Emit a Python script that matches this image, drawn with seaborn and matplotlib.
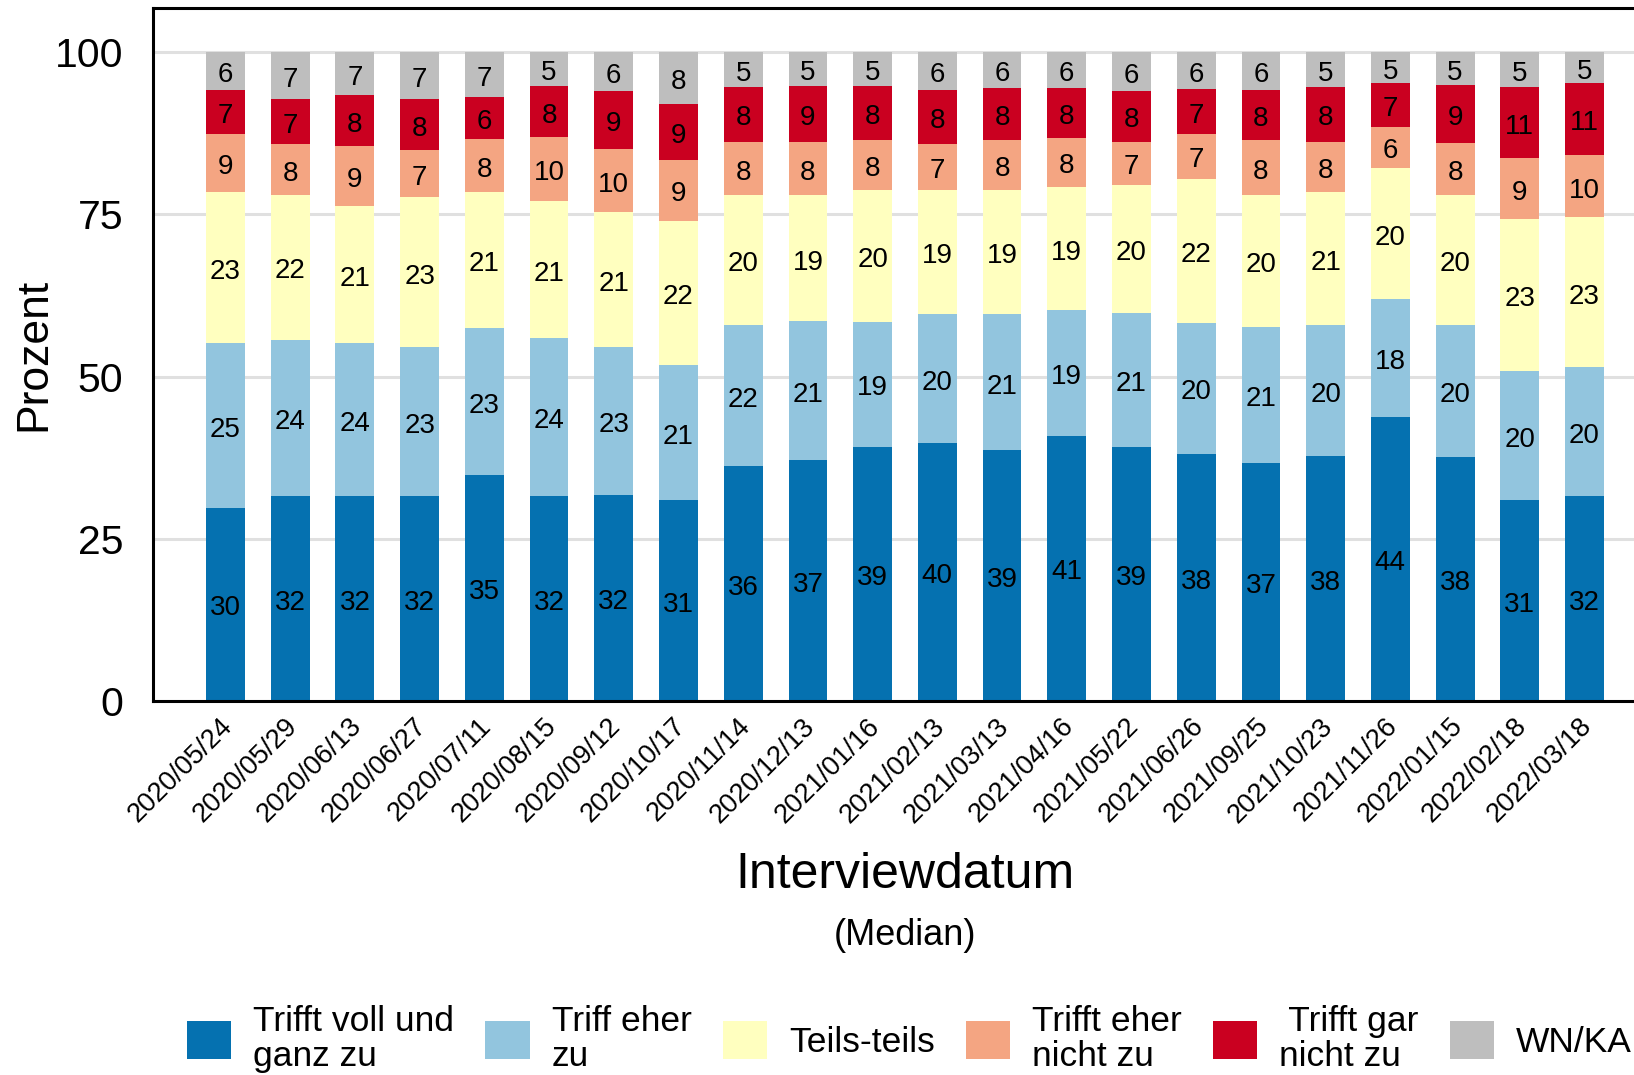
import pandas as pd
import matplotlib.pyplot as plt
import matplotlib.transforms as mtransforms
from matplotlib.patches import Patch
import seaborn as sns

# Interview dates (median)
dates = ["2020/05/24", "2020/05/29", "2020/06/13", "2020/06/27", "2020/07/11",
         "2020/08/15", "2020/09/12", "2020/10/17", "2020/11/14", "2020/12/13",
         "2021/01/16", "2021/02/13", "2021/03/13", "2021/04/16", "2021/05/22",
         "2021/06/26", "2021/09/25", "2021/10/23", "2021/11/26", "2022/01/15",
         "2022/02/18", "2022/03/18"]

# Shares in percent, bottom to top of each stack
voll = [29.8, 31.6, 31.6, 31.6, 34.8, 31.6, 31.7, 30.9, 36.2, 37.1, 39.2,
        39.7, 38.6, 40.9, 39.1, 38.1, 36.6, 37.7, 43.8, 37.6, 30.9, 31.6]
eher = [25.3, 24.1, 23.6, 22.9, 22.6, 24.4, 22.8, 20.8, 21.7, 21.4, 19.2,
        20.0, 21.0, 19.3, 20.7, 20.2, 21.0, 20.2, 18.1, 20.4, 20.0, 19.8]
teils = [23.4, 22.3, 21.0, 23.1, 21.0, 21.0, 20.8, 22.3, 20.0, 19.4, 20.4,
         19.1, 19.2, 19.0, 19.7, 22.2, 20.4, 20.6, 20.3, 20.0, 23.3, 23.1]
eher_nicht = [8.9, 7.8, 9.3, 7.3, 8.2, 9.9, 9.7, 9.4, 8.3, 8.2, 7.7,
              7.1, 7.6, 7.6, 6.7, 6.9, 8.4, 7.7, 6.3, 8.0, 9.4, 9.6]
gar_nicht = [6.7, 7.0, 7.8, 7.9, 6.4, 7.9, 9.0, 8.6, 8.4, 8.6, 8.3,
             8.3, 8.0, 7.6, 7.8, 6.9, 7.8, 8.4, 6.7, 8.9, 11.0, 11.1]
wnka = [5.9, 7.2, 6.7, 7.2, 7.0, 5.2, 6.0, 8.0, 5.4, 5.3, 5.2,
        5.8, 5.6, 5.6, 6.0, 5.7, 5.8, 5.4, 4.8, 5.1, 5.4, 4.8]

labels = ["Trifft voll und\nganz zu", "Triff eher\nzu", "Teils-teils",
          "Trifft eher\nnicht zu", " Trifft gar\nnicht zu", "WN/KA"]
colors = ["#0571b0", "#92c5de", "#ffffbf", "#f4a582", "#ca0020", "#bebebe"]

# Long-form table for seaborn
rows = []
for lab, vals in zip(labels, [voll, eher, teils, eher_nicht, gar_nicht, wnka]):
    for i, v in enumerate(vals):
        rows.append({"pos": i, "resp": lab, "value": v})
df = pd.DataFrame(rows)

sns.set_style("white")
plt.rcParams["font.family"] = ["Liberation Sans", "DejaVu Sans"]
plt.rcParams["text.color"] = "black"
plt.rcParams["axes.labelcolor"] = "black"
plt.rcParams["xtick.color"] = "black"
plt.rcParams["ytick.color"] = "black"

fig = plt.figure(figsize=(16.34, 10.75), dpi=100)
ax = fig.add_axes([153 / 1634, 374 / 1075, 1504 / 1634, 693 / 1075])

# stacked bars (seaborn stacks the last hue level at the bottom)
sns.histplot(data=df, x="pos", weights="value", hue="resp", hue_order=labels[::-1],
             multiple="stack", discrete=True, shrink=0.6,
             palette=dict(zip(labels, colors)), alpha=1, edgecolor="none",
             linewidth=0, legend=False, ax=ax)

for c in ax.containers:
    anns = ax.bar_label(c, fmt="%.0f", label_type="center", fontsize=20, color="black")
    for a in anns:
        a.xyann = (0, -3)

ax.set_xlim(-1.12, 22.12)
ax.set_ylim(0, 106.78)
ax.set_yticks([0, 25, 50, 75, 100])
ax.set_xticks(range(len(dates)))
ax.set_xticklabels(dates, rotation=45, ha="right", rotation_mode="anchor", fontsize=19.5)
ax.tick_params(axis="x", length=0, pad=11)
ax.tick_params(axis="y", length=13, width=2.2, pad=8.6, labelsize=29.5, color="black")

# nudge the date labels a little left and up
shift = mtransforms.ScaledTranslation(-6 / 100, 3 / 100, fig.dpi_scale_trans)
for lbl in ax.get_xticklabels():
    lbl.set_transform(lbl.get_transform() + shift)

ax.yaxis.grid(True, color="#e0e0e0", linewidth=2.2)
ax.xaxis.grid(False)
ax.set_axisbelow(True)
for s in ["left", "top", "bottom", "right"]:
    ax.spines[s].set_color("black")
    ax.spines[s].set_linewidth(2.2)

ax.set_ylabel("Prozent", fontsize=32)
ax.yaxis.set_label_coords(-0.0791, 0.5)
ax.yaxis.label.set_va("center")
ax.set_xlabel("Interviewdatum", fontsize=36)
ax.xaxis.set_label_coords(0.5, -0.251)
ax.xaxis.label.set_va("center")
ax.text(0.5, -0.3377, "(Median)", transform=ax.transAxes, ha="center", va="center", fontsize=26)

handles = [Patch(facecolor=c, edgecolor="none") for c in colors]
leg = fig.legend(handles, labels, ncol=6, loc="center left",
                 bbox_to_anchor=(187 / 1634, 1 - 1039 / 1075), frameon=False,
                 fontsize=25.5, handlelength=1.25, handleheight=1.3,
                 handletextpad=0.62, columnspacing=0.88, borderpad=0, borderaxespad=0)
for t in leg.get_texts():
    t.set_linespacing(1.1)

plt.savefig("out.png", dpi=100)
